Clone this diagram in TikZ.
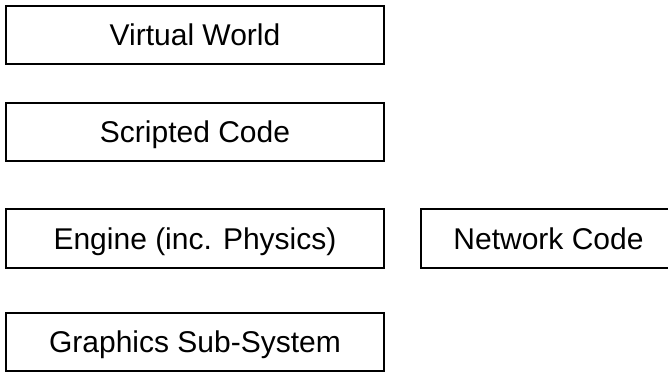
\documentclass[tikz,border=0pt]{standalone}
\usepackage{fontspec}
\setmainfont{Liberation Sans}
\begin{document}
\begin{tikzpicture}[x=1pt,y=-1pt,
  layerbox/.style={draw=black, line width=2pt, inner sep=0pt, minimum height=58pt,
    text height=24pt, text depth=3pt,
    font=\fontsize{30}{34}\selectfont, anchor=center}]
\useasboundingbox (0,0) rectangle (668,372);
\node[layerbox, minimum width=378pt] (vw) at (195,35) {Virtual World};
\node[layerbox, minimum width=378pt] (sc) at (195,132) {Scripted Code};
\node[layerbox, minimum width=378pt, minimum height=59pt] (en) at (195,238.5) {Engine (inc. Physics)};
\node[layerbox, minimum width=255pt, minimum height=59pt] (nc) at (548.5,238.5) {Network Code};
\node[layerbox, minimum width=378pt] (gs) at (195,342) {Graphics Sub-System};
\end{tikzpicture}
\end{document}
